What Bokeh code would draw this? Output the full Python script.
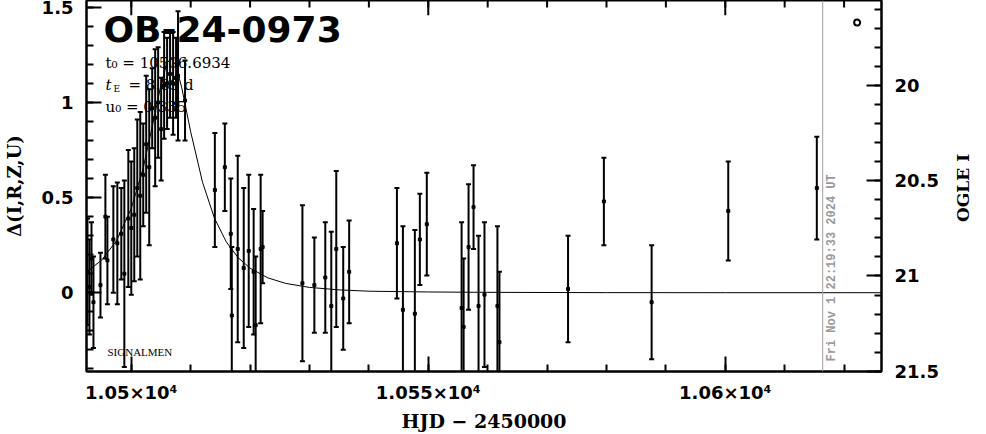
import math
from bokeh.plotting import figure
from bokeh.models import Range1d, LinearAxis, FixedTicker, Label, Span
from bokeh.embed import file_html
from bokeh.resources import INLINE

# ---------------- data ----------------
hjd = [10492.63, 10492.96, 10493.30, 10493.63, 10494.81, 10495.64, 10495.98, 10496.98,
       10497.65, 10498.32, 10498.83, 10499.50, 10500.00, 10500.50, 10501.01, 10501.51,
       10502.01, 10502.51, 10503.02, 10503.52, 10504.02, 10504.52, 10505.03, 10505.53,
       10506.03, 10506.53, 10507.04, 10507.54, 10507.87, 10509.05, 10514.07, 10515.75,
       10516.75, 10516.92, 10517.92, 10518.93, 10519.77, 10520.60, 10520.94, 10521.78,
       10522.11, 10528.81, 10530.82, 10532.66, 10533.67, 10534.51, 10535.68, 10536.68,
       10544.72, 10545.73, 10547.74, 10548.58, 10549.75, 10555.61, 10555.95, 10556.78,
       10557.62, 10558.46, 10559.46, 10561.64, 10561.98, 10573.53, 10579.56, 10587.60,
       10600.50, 10615.41]
delta = [0.11, 0.03, 0.18, -0.05, 0.04, 0.40, 0.17, 0.28,
         0.26, 0.31, 0.10, 0.39, 0.34, 0.41, 0.55, 0.51,
         0.62, 0.78, 0.66, 0.97, 0.92, 1.00, 0.86, 1.09,
         1.10, 1.15, 1.10, 1.13, 1.14, 1.01, 0.54, 0.66,
         0.31, -0.12, 0.23, 0.13, 0.22, 0.11, -0.17, 0.23,
         0.24, 0.05, 0.04, 0.08, -0.07, 0.23, -0.03, 0.11,
         0.26, -0.09, -0.11, 0.28, 0.36, -0.08, -0.18, 0.24,
         0.45, -0.07, -0.01, -0.07, -0.26, 0.02, 0.48, -0.05,
         0.43, 0.55]
err = [0.28, 0.25, 0.19, 0.24, 0.17, 0.22, 0.23, 0.28,
       0.32, 0.24, 0.49, 0.36, 0.35, 0.35, 0.36, 0.44,
       0.27, 0.36, 0.41, 0.21, 0.36, 0.29, 0.27, 0.28,
       0.24, 0.23, 0.27, 0.21, 0.34, 0.21, 0.30, 0.23,
       0.29, 0.36, 0.49, 0.42, 0.40, 0.33, 0.36, 0.39,
       0.19, 0.41, 0.25, 0.29, 0.39, 0.41, 0.27, 0.27,
       0.29, 0.44, 0.44, 0.24, 0.27, 0.45, 0.36, 0.33,
       0.22, 0.37, 0.38, 0.42, 0.37, 0.28, 0.23, 0.30,
       0.26, 0.27]

model_hjd = [10492.5, 10495.0, 10497.5, 10500.0, 10502.0, 10504.0, 10505.0, 10506.0,
             10506.69, 10507.5, 10508.5, 10510.0, 10512.0, 10514.0, 10516.0, 10518.0,
             10520.0, 10523.0, 10526.0, 10530.0, 10535.0, 10540.0, 10550.0, 10560.0,
             10580.0, 10600.0, 10626.3]
model_delta = [0.110, 0.171, 0.273, 0.443, 0.654, 0.942, 1.094, 1.206,
               1.232, 1.196, 1.077, 0.846, 0.580, 0.392, 0.267, 0.184,
               0.129, 0.078, 0.049, 0.028, 0.015, 0.008, 0.004, 0.002,
               0.0005, 0.0002, 0.0001]

now_hjd = 10616.4
marker_hjd = [10622.2]
marker_delta = [1.42]

x_ticks = [10500, 10550, 10600]
x_tick_labels = ["1.05×10⁴", "1.055×10⁴", "1.06×10⁴"]
y_ticks = [0, 0.5, 1, 1.5]
y_tick_labels = ["0", "0.5", "1", "1.5"]
i_ticks = [20, 20.5, 21, 21.5]
i_tick_labels = ["20", "20.5", "21", "21.5"]
i_base = 21.088   # OGLE I magnitude at delta = 0
right_title = "OGLE I"

# ---------------- figure ----------------
W, H = 986, 434
FL, FR, FT, FB = 83, 104, 0, 57          # borders around the frame
x0, x1 = 10492.46, 10626.3
y0, y1 = -0.414, 1.536

p = figure(width=W, height=H, output_backend="svg", toolbar_location=None,
           x_range=Range1d(x0, x1), y_range=Range1d(y0, y1),
           min_border_left=FL, min_border_right=FR, min_border_top=FT,
           min_border_bottom=FB, x_axis_location=None, y_axis_location=None)
p.background_fill_color = "white"
p.border_fill_color = "white"
p.outline_line_color = "black"
p.outline_line_width = 2
p.xgrid.visible = False
p.ygrid.visible = False
p.extra_y_ranges = {"ogle": Range1d(i_base - y0, i_base - y1)}


def style(ax, standoff):
    ax.axis_line_width = 2
    ax.major_tick_in = 15
    ax.major_tick_out = 0
    ax.minor_tick_in = 7
    ax.minor_tick_out = 0
    ax.major_tick_line_width = 2
    ax.minor_tick_line_width = 2
    ax.major_label_text_font = "DejaVu Sans"
    ax.major_label_text_font_style = "bold"
    ax.major_label_text_color = "black"
    ax.major_label_text_font_size = "18px"
    ax.major_label_standoff = standoff
    ax.axis_label_text_font = "DejaVu Serif"
    ax.axis_label_text_font_style = "bold"
    ax.axis_label_text_color = "black"
    ax.axis_label_text_font_size = "18px"


xminor = [10490 + 10 * i for i in range(14)]
yminor = [round(-0.4 + 0.1 * i, 1) for i in range(20)]
iminor = [round(19.6 + 0.1 * i, 1) for i in range(20)]

bottom = LinearAxis(ticker=FixedTicker(ticks=x_ticks, minor_ticks=xminor),
                    major_label_overrides=dict(zip(x_ticks, x_tick_labels)),
                    axis_label="HJD − 2450000")
style(bottom, 10)
bottom.axis_label_standoff = 4
bottom.axis_label_text_font_size = "19px"
left = LinearAxis(ticker=FixedTicker(ticks=y_ticks, minor_ticks=yminor),
                  major_label_overrides=dict(zip(y_ticks, y_tick_labels)),
                  axis_label="Δ(I,R,Z,U)")
style(left, 13)
left.axis_label_standoff = 14
right = LinearAxis(y_range_name="ogle",
                   ticker=FixedTicker(ticks=i_ticks, minor_ticks=iminor),
                   major_label_overrides=dict(zip(i_ticks, i_tick_labels)))
style(right, 13)

# right-hand title, drawn as the single label of an otherwise empty axis
# (the rotated label starts at its tick and runs upward)
title_pos = 0.372
right_title_axis = LinearAxis(ticker=FixedTicker(ticks=[title_pos], minor_ticks=[]),
                              major_label_overrides={title_pos: right_title})
right_title_axis.axis_line_color = None
right_title_axis.major_tick_line_color = None
right_title_axis.minor_tick_line_color = None
right_title_axis.major_tick_in = 0
right_title_axis.major_tick_out = 0
right_title_axis.minor_tick_in = 0
right_title_axis.minor_tick_out = 0
right_title_axis.major_label_standoff = 22
right_title_axis.major_label_orientation = math.pi / 2
right_title_axis.major_label_text_font = "DejaVu Serif"
right_title_axis.major_label_text_font_style = "bold"
right_title_axis.major_label_text_font_size = "17px"
right_title_axis.major_label_text_color = "black"

p.add_layout(bottom, "below")
p.add_layout(left, "left")
p.add_layout(right, "right")
p.add_layout(right_title_axis, "right")

# ticks along the top edge of the frame (pointing inward)
frame_h = H - FT - FB
per_px = (y1 - y0) / frame_h
p.segment(x0=x_ticks, y0=[y1] * len(x_ticks), x1=x_ticks,
          y1=[y1 - 15 * per_px] * len(x_ticks), line_color="black", line_width=2)
p.segment(x0=xminor, y0=[y1] * len(xminor), x1=xminor,
          y1=[y1 - 7 * per_px] * len(xminor), line_color="black", line_width=2)

# ---------------- marks ----------------
lo = [d - e for d, e in zip(delta, err)]
hi = [d + e for d, e in zip(delta, err)]
p.line(model_hjd, model_delta, line_color="black", line_width=1)
p.segment(x0=hjd, y0=lo, x1=hjd, y1=hi, line_color="black", line_width=2)
p.scatter(hjd, hi, marker="dash", size=5, line_color="black", line_width=2)
p.scatter(hjd, lo, marker="dash", size=5, line_color="black", line_width=2)
p.scatter(hjd, delta, marker="square", size=3, color="black")
p.scatter(marker_hjd, marker_delta, marker="circle", size=6, fill_color=None,
          line_color="black", line_width=2)

p.add_layout(Span(location=now_hjd, dimension="height", line_color="#a0a0a0",
                  line_width=1))

# ---------------- texts inside the frame ----------------
def lab(text, x, y, **kw):
    kw.setdefault("text_color", "black")
    kw.setdefault("text_baseline", "alphabetic")
    p.add_layout(Label(text=text, x=x, y=y, x_units="screen", y_units="screen", **kw))

lab("OB-24-0973", 17, 342, text_font="DejaVu Sans", text_font_style="bold",
    text_font_size="36px")
lab("t₀ = 10506.6934", 19, 309, text_font="DejaVu Serif", text_font_size="15px")
lab("t", 19, 287, text_font="DejaVu Serif", text_font_style="italic",
    text_font_size="15px")
lab("E", 27, 283, text_font="DejaVu Serif", text_font_size="9px")
lab("= 8.89 d", 42, 287, text_font="DejaVu Serif", text_font_size="15px")
lab("u₀ = 0.335", 19, 265, text_font="DejaVu Serif", text_font_size="15px")
lab("SIGNALMEN", 21, 20, text_font="Liberation Serif", text_font_size="11px")

p.add_layout(Label(text="Fri Nov  1 22:19:33 2024 UT", x=now_hjd, y=10,
                   x_units="data", y_units="screen", x_offset=2, angle=math.pi / 2,
                   text_font="Liberation Mono", text_font_style="bold",
                   text_font_size="12px", text_color="#999999",
                   text_align="left", text_baseline="top"))

open("out.html", "w").write(file_html(p, INLINE))
